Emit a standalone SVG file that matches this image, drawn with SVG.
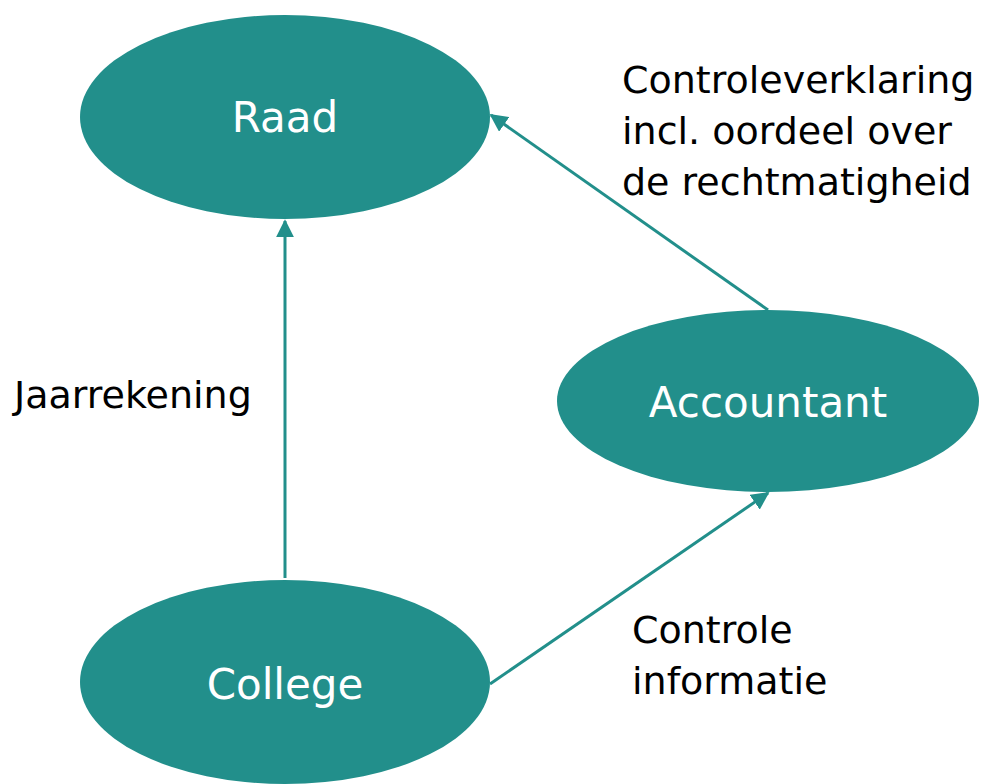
<svg xmlns="http://www.w3.org/2000/svg" width="985" height="784" viewBox="0 0 985 784">
<defs>
<style>
.node{fill:#228F8B;}
.nl{fill:#ffffff;font-family:"DejaVu Sans",sans-serif;font-size:42px;text-anchor:middle;}
.lbl{fill:#000000;font-family:"DejaVu Sans",sans-serif;font-size:38px;}
.edge{stroke:#228F8B;stroke-width:3;fill:none;marker-end:url(#arr);}
</style>
<marker id="arr" viewBox="0 0 10 10" refX="9" refY="5" markerWidth="6" markerHeight="6" orient="auto" markerUnits="strokeWidth">
<path d="M0,0 L10,5 L0,10 z" fill="#228F8B"/>
</marker>
</defs>
<rect width="985" height="784" fill="#ffffff"/>
<g id="connectors">
<line class="edge" x1="285" y1="578" x2="285" y2="221"/>
<line class="edge" x1="768" y1="310" x2="491" y2="115"/>
<line class="edge" x1="490" y1="684" x2="768" y2="493"/>
</g>
<g id="raad">
<ellipse class="node" cx="285" cy="117" rx="205" ry="102"/>
<text class="nl" x="285" y="132">Raad</text>
</g>
<g id="accountant">
<ellipse class="node" cx="768" cy="401" rx="211" ry="91"/>
<text class="nl" x="768" y="417">Accountant</text>
</g>
<g id="college">
<ellipse class="node" cx="285" cy="682" rx="205" ry="102"/>
<text class="nl" x="285" y="699">College</text>
</g>
<g id="labels">
<text class="lbl" x="14" y="408">Jaarrekening</text>
<text class="lbl" x="622" y="93">Controleverklaring</text>
<text class="lbl" x="622" y="144">incl. oordeel over</text>
<text class="lbl" x="622" y="195">de rechtmatigheid</text>
<text class="lbl" x="632" y="643">Controle</text>
<text class="lbl" x="632" y="694">informatie</text>
</g>
</svg>
